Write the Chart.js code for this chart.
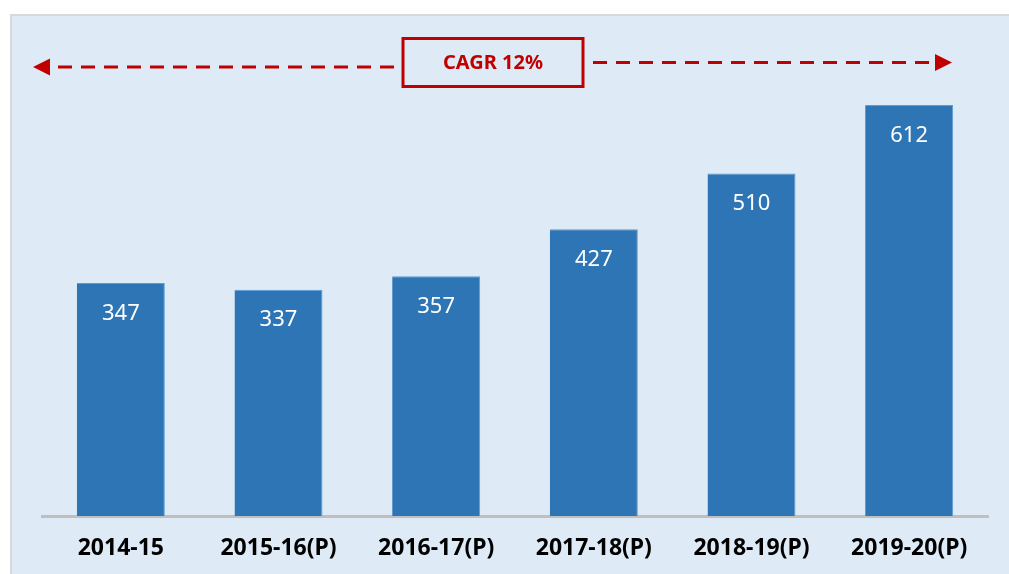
<!DOCTYPE html>
<html>
<head>
<meta charset="utf-8">
<script src="https://cdn.jsdelivr.net/npm/chart.js@4.4.0/dist/chart.umd.min.js"></script>
<style>
  html, body { margin:0; padding:0; background:#ffffff; }
  #wrap { position:absolute; left:0; top:0; width:1009px; height:574px; overflow:hidden; }
  #panel { position:absolute; left:10px; top:14px; right:-5px; bottom:-5px;
           background:#deeaf6; border-left:2px solid #d9d9d9; border-top:2px solid #d9d9d9; }
  #c { position:absolute; left:0; top:0; }
</style>
</head>
<body>
<div id="wrap">
  <div id="panel"></div>
  <canvas id="c" width="1009" height="574"></canvas>
</div>
<script>
const categories = ["2014-15", "2015-16(P)", "2016-17(P)", "2017-18(P)", "2018-19(P)", "2019-20(P)"];
const values = [347, 337, 357, 427, 510, 612];
const cagrLabel = "CAGR 12%";

const barLabels = {
  id: 'barLabels',
  afterDatasetsDraw(chart) {
    const ctx = chart.ctx;
    const meta = chart.getDatasetMeta(0);
    ctx.save();
    ctx.fillStyle = '#ffffff';
    ctx.font = '22px "Noto Sans"';
    ctx.textAlign = 'center';
    ctx.textBaseline = 'middle';
    meta.data.forEach((bar, i) => {
      ctx.fillText(String(values[i]), bar.x, bar.y + 30.5);
    });
    ctx.restore();
  }
};

const cagr = {
  id: 'cagr',
  afterDraw(chart) {
    const ctx = chart.ctx;
    const red = '#c00000';
    ctx.save();
    ctx.strokeStyle = red;
    ctx.fillStyle = red;
    ctx.lineWidth = 3;
    ctx.setLineDash([14, 9]);
    ctx.beginPath();
    ctx.moveTo(394, 67); ctx.lineTo(48, 67);
    ctx.stroke();
    ctx.beginPath();
    ctx.moveTo(593, 62.5); ctx.lineTo(938, 62.5);
    ctx.stroke();
    ctx.setLineDash([]);
    ctx.beginPath();
    ctx.moveTo(33, 67); ctx.lineTo(50, 58.5); ctx.lineTo(50, 75.5); ctx.closePath();
    ctx.fill();
    ctx.beginPath();
    ctx.moveTo(952, 62.5); ctx.lineTo(935, 54); ctx.lineTo(935, 71); ctx.closePath();
    ctx.fill();
    ctx.lineWidth = 3;
    ctx.strokeRect(403, 38.5, 180, 48);
    ctx.font = 'bold 20px "Noto Sans"';
    ctx.textAlign = 'center';
    ctx.textBaseline = 'middle';
    ctx.fillText(cagrLabel, 493, 63);
    ctx.restore();
  }
};

new Chart(document.getElementById('c'), {
  type: 'bar',
  data: {
    labels: categories,
    datasets: [{
      data: values,
      backgroundColor: '#2e75b6',
      borderColor: '#5b9bd5',
      borderWidth: { top: 1, left: 0, right: 1, bottom: 0 },
      borderSkipped: 'bottom',
      categoryPercentage: 1.0,
      barPercentage: 0.558
    }]
  },
  options: {
    responsive: false,
    animation: false,
    events: [],
    layout: { padding: { left: 42, right: 21, top: 46, bottom: 0 } },
    plugins: { legend: { display: false }, tooltip: { enabled: false } },
    scales: {
      x: {
        grid: { display: false, drawTicks: false },
        border: { display: true, color: '#bfbfbf', width: 3 },
        ticks: {
          color: '#000000',
          font: { family: '"Noto Sans"', size: 23, weight: 'bold' },
          padding: 19,
          maxRotation: 0,
          autoSkip: false
        },
        afterFit(scale) { scale.height = 58; }
      },
      y: {
        display: false,
        min: 0,
        max: 700
      }
    }
  },
  plugins: [barLabels, cagr]
});
</script>
</body>
</html>
